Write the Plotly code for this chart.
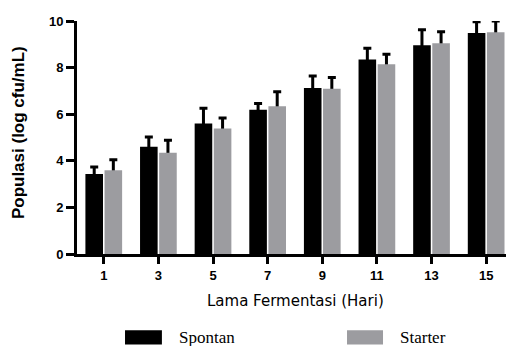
import plotly.graph_objects as go

days = ["1", "3", "5", "7", "9", "11", "13", "15"]
spontan = [3.43, 4.60, 5.60, 6.19, 7.12, 8.35, 8.96, 9.49]
spontan_err = [0.30, 0.42, 0.66, 0.27, 0.52, 0.48, 0.66, 0.48]
starter = [3.59, 4.35, 5.39, 6.34, 7.09, 8.14, 9.04, 9.52]
starter_err = [0.46, 0.53, 0.45, 0.62, 0.49, 0.43, 0.50, 0.48]

BLACK = "#000000"
GREY = "#9c9ca0"
SANS = "Liberation Sans"
SERIF = "Liberation Serif"

series = [("Spontan", spontan, spontan_err, BLACK, "a"),
          ("Starter", starter, starter_err, GREY, "b")]

fig = go.Figure()
# error bars first (on invisible bars) so the real bars hide the lower part
for name, vals, errs, col, grp in series:
    fig.add_trace(go.Bar(
        x=days, y=vals, offsetgroup=grp,
        marker=dict(color="rgba(0,0,0,0)", line=dict(width=0)),
        error_y=dict(type="data", symmetric=False, array=errs,
                     arrayminus=vals, color=BLACK, thickness=3, width=4),
        showlegend=False, hoverinfo="skip",
    ))
for name, vals, errs, col, grp in series:
    fig.add_trace(go.Bar(
        x=days, y=vals, name=name, offsetgroup=grp,
        marker=dict(color=col, line=dict(width=0)),
        showlegend=False,
    ))

# page body adds 8px around the figure; keep it inside the window height
fig.update_layout(
    width=506, height=338,
    margin=dict(l=69, r=6, t=9, b=92),
    plot_bgcolor="white", paper_bgcolor="white",
    barmode="group", bargap=0.3, bargroupgap=0.08,
    font=dict(family=SANS, color="black"),
)
fig.update_xaxes(
    type="category", range=[-0.49, 7.4],
    showline=True, linewidth=3, linecolor="black",
    ticks="outside", ticklen=7, tickwidth=3, tickcolor="black",
    tickfont=dict(size=13, family=SANS, weight="bold"),
    showgrid=False,
)
fig.update_yaxes(
    range=[0, 10], tickvals=[0, 2, 4, 6, 8, 10],
    showline=True, linewidth=3, linecolor="black",
    ticks="outside", ticklen=8, tickwidth=3, tickcolor="black",
    tickfont=dict(size=13, family=SANS, weight="bold"),
    showgrid=False, zeroline=False,
)

fig.add_annotation(text="Lama Fermentasi (Hari)", xref="paper", yref="paper",
                   x=0.508, y=-0.2, showarrow=False, xanchor="center", yanchor="middle",
                   font=dict(size=15, family="DejaVu Sans"))
fig.add_annotation(text="Populasi (log cfu/mL)", xref="paper", yref="paper",
                   x=-0.137, y=0.523, showarrow=False, textangle=-90,
                   xanchor="center", yanchor="middle",
                   font=dict(size=17, family=SANS, weight="bold"))

# legend drawn below the axis
fig.add_shape(type="rect", xref="paper", yref="paper", x0=0.1114, x1=0.197,
              y0=-0.388, y1=-0.3276, fillcolor=BLACK, line=dict(width=0))
fig.add_shape(type="rect", xref="paper", yref="paper", x0=0.6265, x1=0.710,
              y0=-0.388, y1=-0.3276, fillcolor=GREY, line=dict(width=0))
fig.add_annotation(text="Spontan", xref="paper", yref="paper", x=0.232, y=-0.358,
                   showarrow=False, xanchor="left", yanchor="middle",
                   font=dict(size=17, family=SERIF))
fig.add_annotation(text="Starter", xref="paper", yref="paper", x=0.745, y=-0.358,
                   showarrow=False, xanchor="left", yanchor="middle",
                   font=dict(size=17, family=SERIF))

fig.write_html("out.html")
